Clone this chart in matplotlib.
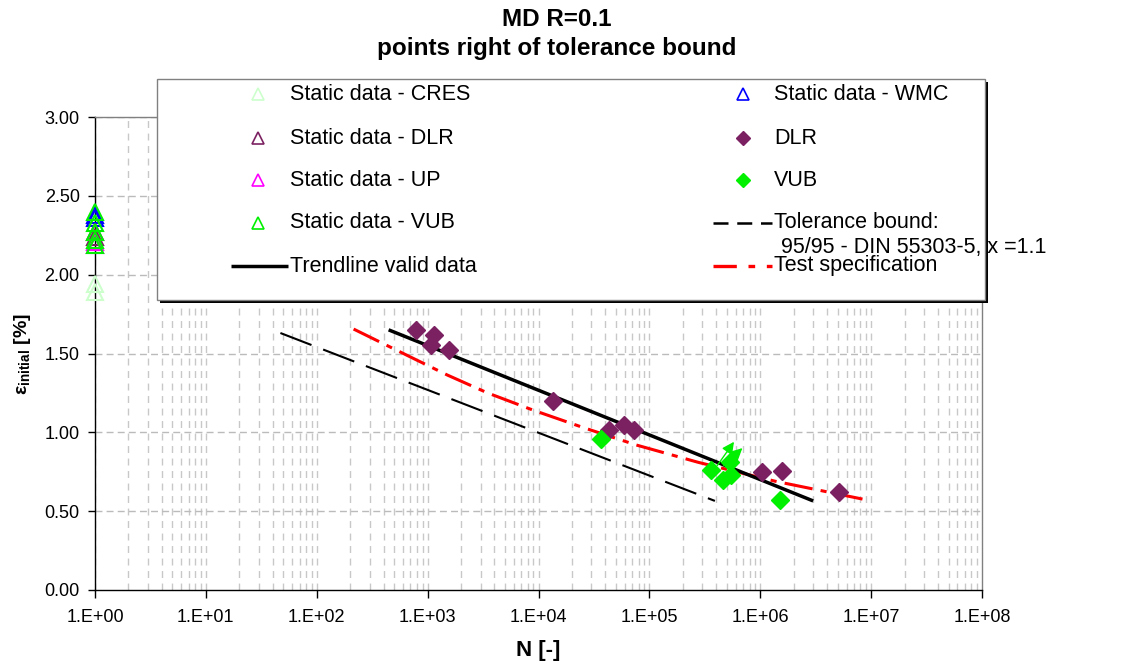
import matplotlib
matplotlib.use('Agg')
import matplotlib.pyplot as plt
from matplotlib.patches import Rectangle

plt.rcParams['font.family'] = ['Liberation Sans', 'DejaVu Sans']
plt.rcParams['mathtext.fontset'] = 'custom'
plt.rcParams['mathtext.rm'] = 'Liberation Sans'
plt.rcParams['mathtext.bf'] = 'Liberation Sans:bold'
plt.rcParams['mathtext.it'] = 'Liberation Sans:italic'

# ---------------- data ----------------
static_n = 1.0
static_cres = [1.94, 1.89]
static_wmc = [2.38, 2.36]
static_dlr = [2.27, 2.24]
static_up = [2.21, 2.19]
static_vub = [2.40, 2.33, 2.27, 2.22, 2.19]

dlr_n = [780, 1070, 1150, 1550, 13600, 43000, 59000, 72000, 1.04e6, 1.58e6, 5.1e6]
dlr_eps = [1.65, 1.555, 1.62, 1.52, 1.20, 1.015, 1.045, 1.015, 0.75, 0.755, 0.62]

vub_n = [37000, 3.6e5, 4.6e5, 5.5e5, 5.3e5, 1.5e6]
vub_eps = [0.96, 0.76, 0.70, 0.73, 0.81, 0.57]

runout_start_n = [4.1e5, 4.7e5]
runout_start_eps = [0.79, 0.79]
runout_end_n = [5.8e5, 6.9e5]
runout_end_eps = [0.94, 0.90]

trend_n = [445, 3.0e6]
trend_eps = [1.65, 0.565]
tol_n = [47, 3.9e5]
tol_eps = [1.63, 0.565]
spec_n = [215, 690, 1510, 3470, 9000, 25400, 75900, 2.75e5, 1.36e6, 9.3e6]
spec_eps = [1.655, 1.48, 1.363, 1.25, 1.14, 1.03, 0.92, 0.81, 0.69, 0.57]

x_ticks = [1e0, 1e1, 1e2, 1e3, 1e4, 1e5, 1e6, 1e7, 1e8]
x_tick_labels = ['1.E+00', '1.E+01', '1.E+02', '1.E+03', '1.E+04',
                 '1.E+05', '1.E+06', '1.E+07', '1.E+08']
y_ticks = [0.0, 0.5, 1.0, 1.5, 2.0, 2.5, 3.0]
y_tick_labels = ['0.00', '0.50', '1.00', '1.50', '2.00', '2.50', '3.00']

title_lines = ['MD R=0.1', 'points right of tolerance bound']

# ---------------- style ----------------
C_DLR = '#7B2162'
C_VUB = '#00F000'
C_CRES = '#CCFFCC'
C_WMC = '#0000FF'
C_UP = '#FF00FF'
C_RED = '#FF0000'

fig = plt.figure(figsize=(11.25, 6.69), dpi=100)
ax = fig.add_axes([95/1125, 1-590/669, 887/1125, 473/669])
ax.set_xscale('log')
ax.set_xlim(1e0, 1e8)
ax.set_ylim(0, 3.0)

# grid
for n in x_ticks[:-1]:
    for m in range(1, 10):
        ax.axvline(n*m, color='#C8C8C8', lw=1.0, ls=(0, (5, 4)), zorder=0)
for v in y_ticks[1:]:
    ax.axhline(v, color='#BBBBBB', lw=1.0, ls=(0, (5, 3)), zorder=0)

# static data
tri_kw = dict(ls='none', marker='^', ms=11, mfc='none', mew=1.5, clip_on=False, zorder=4)
ax.plot([static_n]*len(static_cres), static_cres, mec=C_CRES, **tri_kw)
ax.plot([static_n]*len(static_wmc), static_wmc, mec=C_WMC, **tri_kw)
ax.plot([static_n]*len(static_dlr), static_dlr, mec=C_DLR, **tri_kw)
ax.plot([static_n]*len(static_up), static_up, mec=C_UP, **tri_kw)
ax.plot([static_n]*len(static_vub), static_vub, mec=C_VUB, **tri_kw)

# lines
ax.plot(tol_n, tol_eps, color='black', lw=1.5, ls=(0, (16, 6)), zorder=2)
ax.plot(spec_n, spec_eps, color=C_RED, lw=2.2, ls=(0, (9.3, 2.7, 2, 2.7)), zorder=2)
ax.plot(trend_n, trend_eps, color='black', lw=2.5, zorder=3, solid_capstyle='butt')

# fatigue data
ax.plot(dlr_n, dlr_eps, ls='none', marker='D', ms=8.8, color=C_DLR, mec=C_DLR, zorder=5)
ax.plot(vub_n, vub_eps, ls='none', marker='D', ms=8.8, color=C_VUB, mec=C_VUB, zorder=5)
for sn, se, en, ee in zip(runout_start_n, runout_start_eps, runout_end_n, runout_end_eps):
    ax.annotate('', xy=(en, ee), xytext=(sn, se),
                arrowprops=dict(arrowstyle='-|>', color=C_VUB, lw=1.0,
                                mutation_scale=18, shrinkA=0, shrinkB=0),
                zorder=6)

# axes styling
ax.set_xticks(x_ticks)
ax.set_xticklabels(x_tick_labels)
ax.xaxis.set_minor_locator(matplotlib.ticker.NullLocator())
ax.set_yticks(y_ticks)
ax.set_yticklabels(y_tick_labels)
ax.tick_params(axis='x', length=6, width=1, direction='out', pad=8, labelsize=13)
ax.tick_params(axis='y', length=5, width=1, direction='out', pad=6, labelsize=13)
for s in ['top', 'right']:
    ax.spines[s].set_color('#808080')
    ax.spines[s].set_linewidth(1)
for s in ['left', 'bottom']:
    ax.spines[s].set_color('black')
    ax.spines[s].set_linewidth(1)

ax.set_xlabel('N [-]', fontsize=16, fontweight='bold')
ax.xaxis.set_label_coords(0.5, -0.105)
ax.set_ylabel(r'ε$_{\mathbf{initial}}$ [%]', fontsize=14, fontweight='bold')
ax.yaxis.set_label_coords(-0.07, 0.5)

# title
fig.text(557/1125, 1-20/669, title_lines[0], ha='center', va='center',
         fontsize=17.5, fontweight='bold')
fig.text(557/1125, 1-48/669, title_lines[1], ha='center', va='center',
         fontsize=17.5, fontweight='bold')

# ---------------- legend (pixel overlay) ----------------
lax = fig.add_axes([0, 0, 1, 1], zorder=10)
lax.set_xlim(0, 1125)
lax.set_ylim(669, 0)
lax.axis('off')
lax.add_patch(Rectangle((160, 82), 828, 221, facecolor='black', edgecolor='none'))
lax.add_patch(Rectangle((157, 79), 828, 221, facecolor='white', edgecolor='#808080', lw=1))

fs = 15.5
rows = [94, 138, 180, 223, 266]
lax.plot([258], [rows[0]], marker='^', ms=9, mfc='none', mec=C_CRES, mew=1.2)
lax.plot([258], [rows[1]], marker='^', ms=9, mfc='none', mec=C_DLR, mew=1.2)
lax.plot([258], [rows[2]], marker='^', ms=9, mfc='none', mec=C_UP, mew=1.2)
lax.plot([258], [rows[3]], marker='^', ms=9, mfc='none', mec=C_VUB, mew=1.2)
lax.plot([231, 288], [rows[4], rows[4]], color='black', lw=2.5, solid_capstyle='butt')
lax.text(290, rows[0], 'Static data - CRES', fontsize=fs, va='center')
lax.text(290, rows[1], 'Static data - DLR', fontsize=fs, va='center')
lax.text(290, rows[2], 'Static data - UP', fontsize=fs, va='center')
lax.text(290, rows[3], 'Static data - VUB', fontsize=fs, va='center')
lax.text(290, rows[4], 'Trendline valid data', fontsize=fs, va='center')

lax.plot([743], [rows[0]], marker='^', ms=9, mfc='none', mec=C_WMC, mew=1.2)
lax.plot([743], [rows[1]], marker='D', ms=7.5, color=C_DLR)
lax.plot([743], [rows[2]], marker='D', ms=7.5, color=C_VUB)
lax.plot([713, 772], [rows[3], rows[3]], color='black', lw=1.8, ls=(0, (6, 3.5)))
lax.plot([713, 772], [rows[4], rows[4]], color=C_RED, lw=2.4, ls=(0, (7, 3.5, 2, 3.5)))
lax.text(774, rows[0], 'Static data - WMC', fontsize=fs, va='center')
lax.text(774, rows[1], 'DLR', fontsize=fs, va='center')
lax.text(774, rows[2], 'VUB', fontsize=fs, va='center')
lax.text(774, rows[3], 'Tolerance bound:', fontsize=fs, va='center')
lax.text(781, 247, '95/95 - DIN 55303-5, x =1.1', fontsize=fs, va='center')
lax.text(774, rows[4], 'Test specification', fontsize=fs, va='center')

fig.savefig('out.png', dpi=100)
